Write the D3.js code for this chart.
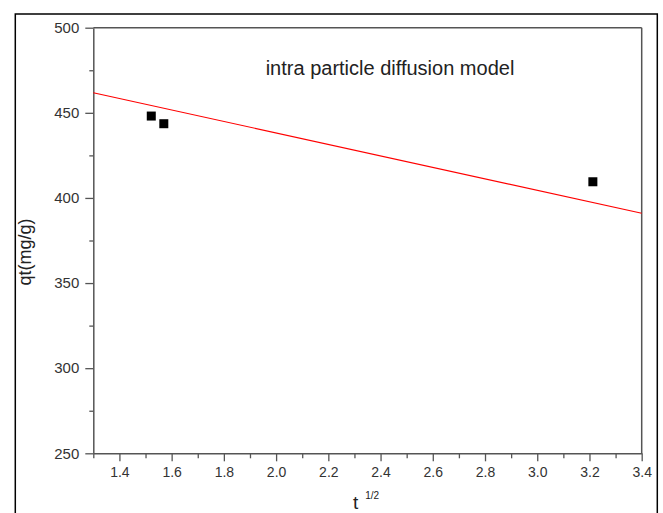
<!DOCTYPE html>
<html>
<head>
<meta charset="utf-8">
<script src="https://cdn.jsdelivr.net/npm/d3@7"></script>
<style>
  body { margin: 0; background: #fff; }
  svg { display: block; font-family: "Liberation Sans", Arial, sans-serif; }
</style>
</head>
<body>
<div id="chart"></div>
<script>
// Intra particle diffusion model: qt vs t^1/2

// Data points
const sqrtT = [1.522, 1.570, 3.213];
const qt = [448.1, 443.6, 409.5];

// Fitted line end points
const fitX = [1.3, 3.4];
const fitY = [461.8, 391.0];

// Axis ticks
const xTicks = [1.4, 1.6, 1.8, 2.0, 2.2, 2.4, 2.6, 2.8, 3.0, 3.2, 3.4];
const xMinor = [1.3, 1.5, 1.7, 1.9, 2.1, 2.3, 2.5, 2.7, 2.9, 3.1, 3.3];
const yTicks = [250, 300, 350, 400, 450, 500];
const yMinor = [275, 325, 375, 425, 475];

const W = 663, H = 513;
const margin = { top: 27.7, right: 21.3, bottom: 59.7, left: 93.3 },
    width = W - margin.left - margin.right,
    height = H - margin.top - margin.bottom;

const axisColor = "#555";

const svg = d3.select("#chart")
    .append("svg")
    .attr("width", W)
    .attr("height", H);

// Outer frame (runs off the bottom of the picture)
svg.append("rect")
    .attr("x", 15.3)
    .attr("y", 14)
    .attr("width", 642)
    .attr("height", 520)
    .attr("fill", "none")
    .attr("stroke", "#000")
    .attr("stroke-width", 1.5);

const g = svg.append("g")
    .attr("transform", `translate(${margin.left},${margin.top})`);

const x = d3.scaleLinear().domain([1.3, 3.4]).range([0, width]);
const y = d3.scaleLinear().domain([250, 500]).range([height, 0]);

// Minor ticks
g.append("g")
    .attr("transform", `translate(0,${height})`)
    .call(d3.axisBottom(x).tickValues(xMinor).tickSize(5).tickFormat(""))
    .call(a => a.select(".domain").remove())
    .call(a => a.selectAll("line").attr("stroke", axisColor).attr("stroke-width", 1.3));

g.append("g")
    .call(d3.axisLeft(y).tickValues(yMinor).tickSize(4).tickFormat(""))
    .call(a => a.select(".domain").remove())
    .call(a => a.selectAll("line").attr("stroke", axisColor).attr("stroke-width", 1.3));

// Major axes
const xAxis = g.append("g")
    .attr("transform", `translate(0,${height})`)
    .call(d3.axisBottom(x).tickValues(xTicks).tickSize(8).tickSizeOuter(0)
        .tickPadding(6).tickFormat(d3.format(".1f")));

const yAxis = g.append("g")
    .call(d3.axisLeft(y).tickValues(yTicks).tickSize(8).tickSizeOuter(0)
        .tickPadding(6));

[xAxis, yAxis].forEach(a => {
    a.select(".domain").attr("stroke", axisColor).attr("stroke-width", 1.5);
    a.selectAll(".tick line").attr("stroke", axisColor).attr("stroke-width", 1.3);
    a.selectAll(".tick text")
        .attr("fill", "#333")
        .style("font-family", "Liberation Sans, Arial, sans-serif");
});
xAxis.selectAll(".tick text").style("font-size", "14px");
yAxis.selectAll(".tick text").style("font-size", "15px");

// Top and right frame lines
g.append("line")
    .attr("x1", 0).attr("x2", width)
    .attr("y1", 0).attr("y2", 0)
    .attr("stroke", axisColor).attr("stroke-width", 1.5);
g.append("line")
    .attr("x1", width).attr("x2", width)
    .attr("y1", 0).attr("y2", height)
    .attr("stroke", axisColor).attr("stroke-width", 1.5);

// Fit line
g.append("path")
    .datum(fitX.map((d, i) => [d, fitY[i]]))
    .attr("fill", "none")
    .attr("stroke", "#ff0000")
    .attr("stroke-width", 1.2)
    .attr("d", d3.line().x(d => x(d[0])).y(d => y(d[1])));

// Data squares
const sq = 9;
g.append("g")
    .selectAll("rect")
    .data(sqrtT.map((d, i) => [d, qt[i]]))
    .join("rect")
    .attr("x", d => x(d[0]) - sq / 2)
    .attr("y", d => y(d[1]) - sq / 2)
    .attr("width", sq)
    .attr("height", sq)
    .attr("fill", "#000");

// Title inside plot
svg.append("text")
    .attr("x", 390)
    .attr("y", 75)
    .attr("text-anchor", "middle")
    .style("font-size", "20px")
    .attr("fill", "#222")
    .text("intra particle diffusion model");

// Y label
svg.append("text")
    .attr("transform", "translate(31,252) rotate(-90)")
    .attr("text-anchor", "middle")
    .style("font-size", "18px")
    .attr("fill", "#222")
    .text("qt(mg/g)");

// X label with superscript
const xl = svg.append("text")
    .attr("x", 353)
    .attr("y", 509)
    .attr("fill", "#222")
    .style("font-size", "19px");
xl.append("tspan").text("t");
xl.append("tspan")
    .attr("dx", 7)
    .attr("dy", -10)
    .style("font-size", "10px")
    .text("1/2");
</script>
</body>
</html>
